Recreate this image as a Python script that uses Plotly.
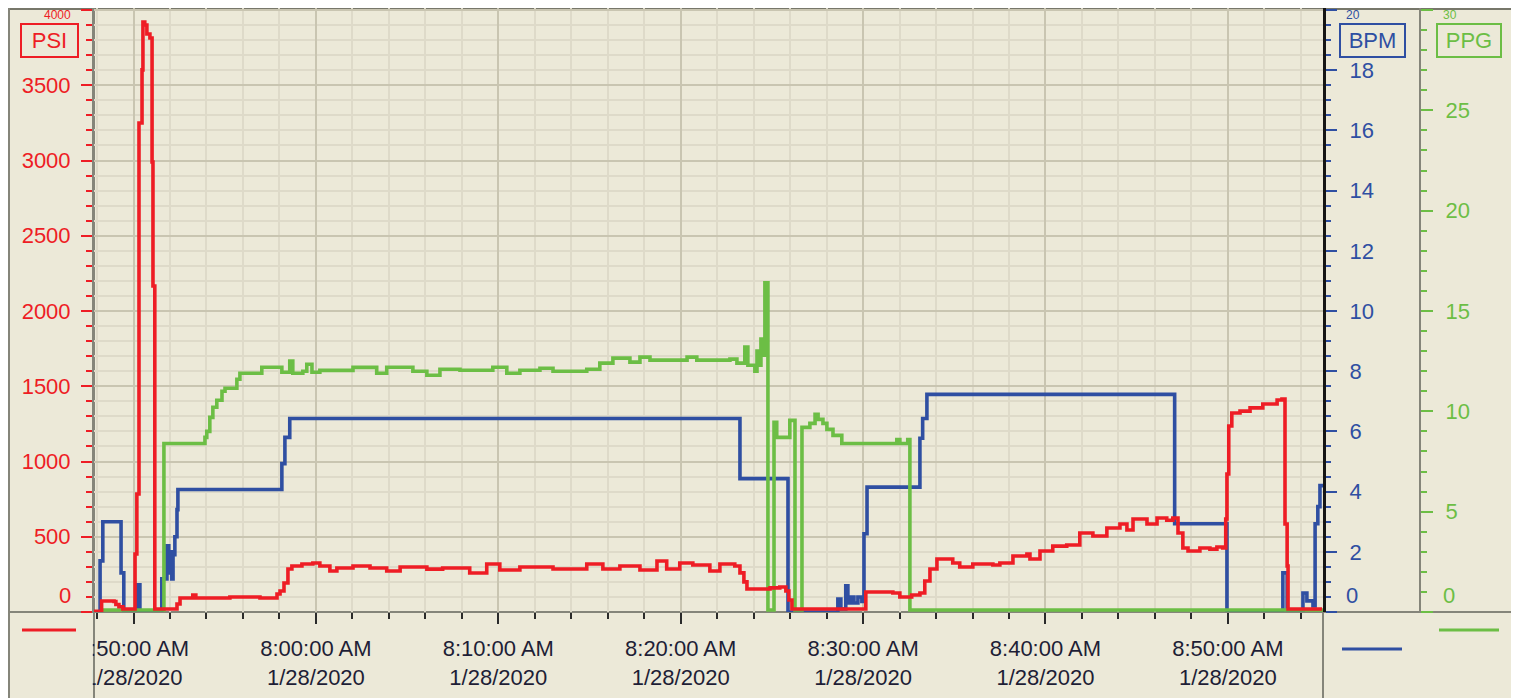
import plotly.graph_objects as go

DAY = "2020-01-28"

# ---------------- data ----------------
psi_times = ["07:47:50","07:48:15","07:48:56","07:49:02","07:49:12","07:49:25","07:50:05","07:50:11",
             "07:50:18","07:50:28","07:50:31","07:50:37","07:50:44","07:50:54","07:51:01","07:51:04",
             "07:51:10","07:52:23","07:52:33","07:53:15","07:53:25","07:55:17","07:56:56","07:57:52",
             "07:58:02","07:58:15","07:58:28","07:58:41","07:59:14","07:59:50","08:00:13","08:00:46",
             "08:01:09","08:02:02","08:02:58","08:03:53","08:04:37","08:06:05","08:06:57","08:08:26",
             "08:09:22","08:10:05","08:11:11","08:13:00","08:14:51","08:15:44","08:16:40","08:17:46",
             "08:18:42","08:19:14","08:19:57","08:20:40","08:21:36","08:22:09","08:22:58","08:23:15",
             "08:23:28","08:23:38","08:24:54","08:25:26","08:25:46","08:25:56","08:26:06","08:29:59",
             "08:30:09","08:31:38","08:32:01","08:32:40","08:33:07","08:33:23","08:33:40","08:34:03",
             "08:34:55","08:35:18","08:36:01","08:37:07","08:37:30","08:38:13","08:38:59","08:39:09",
             "08:39:42","08:40:24","08:41:10","08:41:53","08:42:36","08:43:22","08:44:05","08:44:28",
             "08:44:48","08:45:34","08:46:07","08:46:39","08:46:59","08:47:16","08:47:32","08:47:49",
             "08:48:28","08:49:01","08:49:24","08:49:43","08:49:53","08:49:57","08:50:03","08:50:13",
             "08:50:40","08:51:13","08:51:55","08:52:42","08:52:58","08:53:08","08:53:15","08:53:18",
             "08:55:10"]
psi_values = [5,73,70,50,35,20,385,784,
              3249,3602,3920,3900,3841,3814,2990,2166,
              20,53,93,113,93,100,93,120,
              140,193,286,306,319,326,306,272,
              292,306,292,272,299,285,292,259,
              319,279,299,286,319,286,306,279,
              339,286,326,312,272,319,306,260,
              200,153,160,166,140,80,20,20,
              133,126,100,113,126,206,286,352,
              326,299,319,312,326,372,385,352,
              405,438,445,525,505,558,585,545,
              618,585,625,610,625,525,425,405,
              425,418,432,425,618,917,1236,1322,
              1335,1356,1382,1409,1415,585,306,20,
              20]

bpm_times = ["07:47:50","07:48:10","07:48:19","07:49:19","07:49:28","07:50:11","07:50:21","07:51:33",
             "07:51:50","07:51:56","07:52:00","07:52:06","07:52:10","07:52:16","07:52:23","07:52:26",
             "07:58:08","07:58:18","07:58:34","08:23:15","08:25:53","08:28:37","08:28:47","08:29:03",
             "08:29:10","08:29:20","08:29:30","08:29:43","08:29:56","08:30:03","08:30:13","08:33:07",
             "08:33:16","08:33:30","08:47:05","08:49:57","08:53:01","08:53:15","08:54:07","08:54:20",
             "08:54:40","08:54:47","08:54:56","08:55:03","08:55:13"]
bpm_values = [0,1.7,3.0,1.3,0,0.9,0,1.1,
              2.2,1.3,2.0,1.1,1.9,2.5,3.4,4.07,
              4.93,5.8,6.43,4.43,0,0.43,0.1,0.87,
              0.3,0.5,0.3,0.5,0.35,2.6,4.15,5.77,
              6.43,7.23,2.93,0,1.3,0,0.63,0.37,
              0.2,2.93,3.5,4.2,4.2]

ppg_times = ["07:48:10","07:51:40","07:53:55","07:54:01","07:54:11","07:54:21","07:54:34","07:54:51",
             "07:55:01","07:55:40","07:55:50","07:57:02","07:58:08","07:58:34","07:58:44","07:59:17",
             "07:59:30","07:59:47","08:00:13","08:02:02","08:03:20","08:03:53","08:05:19","08:06:05",
             "08:06:48","08:07:54","08:09:42","08:10:28","08:11:11","08:12:17","08:13:00","08:14:51",
             "08:15:34","08:16:17","08:17:13","08:17:46","08:18:19","08:20:21","08:20:53","08:22:42",
             "08:23:05","08:23:31","08:23:41","08:24:04","08:24:11","08:24:17","08:24:24","08:24:30",
             "08:24:37","08:24:47","08:25:07","08:25:16","08:25:59","08:26:16","08:26:39","08:27:05",
             "08:27:22","08:27:32","08:27:48","08:28:01","08:28:21","08:28:50","08:31:51","08:32:01",
             "08:32:27","08:32:34","08:55:13"]
ppg_values = [0.1,8.4,8.7,9.0,9.7,10.2,10.55,11.0,
              11.15,11.6,11.9,12.2,11.95,12.5,11.9,12.0,
              12.35,11.95,12.04,12.19,11.9,12.2,12.0,11.8,
              12.1,12.05,12.2,11.9,12.05,12.15,12.0,12.1,
              12.4,12.65,12.45,12.7,12.55,12.7,12.55,12.6,
              12.4,13.2,12.3,12.0,13.0,12.3,13.6,12.8,
              16.4,0.1,9.45,8.7,9.55,0.1,9.2,9.4,
              9.85,9.6,9.4,9.1,8.8,8.4,8.6,8.4,
              8.6,0.1,0.1]

x_tick_times = ["07:50:00","08:00:00","08:10:00","08:20:00","08:30:00","08:40:00","08:50:00"]
x_tick_labels = ["7:50:00 AM<br>1/28/2020","8:00:00 AM<br>1/28/2020","8:10:00 AM<br>1/28/2020",
                 "8:20:00 AM<br>1/28/2020","8:30:00 AM<br>1/28/2020","8:40:00 AM<br>1/28/2020",
                 "8:50:00 AM<br>1/28/2020"]
x_range = ["07:47:50", "08:55:13"]

psi_ticks = [0,500,1000,1500,2000,2500,3000,3500,4000]
psi_tick_labels = ["","500","1000","1500","2000","2500","3000","3500",""]
bpm_ticks = [0,2,4,6,8,10,12,14,16,18,20]
bpm_tick_labels = ["","2","4","6","8","10","12","14","16","18",""]
ppg_ticks = [0,5,10,15,20,25,30]
ppg_tick_labels = ["","5","10","15","20","25",""]

# ---------------- styling ----------------
PAGE_W, PAGE_H = 1519, 698
OFF = 8                      # the page body adds an 8 px margin around the figure
W, H = PAGE_W - OFF, PAGE_H - OFF
LEFT, RIGHT_AX, PPG_AX, TOP, BOTTOM = 94, 1323, 1420, 8, 612   # page pixels
FONT = "Liberation Sans, Arial, sans-serif"
BG = "#ECE9D8"
GRID_MAJOR = "#C9C5B1"
GRID_MINOR = "#DEDAC9"
FRAME = "#85857A"
RED = "#EE1D25"
BLUE = "#2F4FA2"
GREEN = "#6CBE45"
XLAB = "#1E1E36"
LW = 3.6

scale_top = (BOTTOM - TOP) / (BOTTOM - 10)
PSI_TOP = 4000 * scale_top
BPM_TOP = 20 * scale_top
PPG_TOP = 30 * scale_top


def px(x):
    return (x - LEFT) / (PPG_AX - LEFT)


def py(y):
    return (BOTTOM - y) / (BOTTOM - TOP)


def ts(t):
    return f"{DAY} {t}"


fig = go.Figure()
# placeholder trace so the grid-only base axis exists
fig.add_trace(go.Scatter(x=[ts(x_range[0])], y=[None], yaxis="y", mode="lines",
                         showlegend=False, hoverinfo="skip"))
fig.add_trace(go.Scatter(x=[ts(t) for t in bpm_times], y=bpm_values, yaxis="y2", mode="lines",
                         name="BPM", line=dict(color=BLUE, width=LW, shape="hv")))
fig.add_trace(go.Scatter(x=[ts(t) for t in ppg_times], y=ppg_values, yaxis="y3", mode="lines",
                         name="PPG", line=dict(color=GREEN, width=LW, shape="hv")))
fig.add_trace(go.Scatter(x=[ts(t) for t in psi_times], y=psi_values, yaxis="y4", mode="lines",
                         name="PSI", line=dict(color=RED, width=LW, shape="hv")))

fig.update_layout(
    width=W, height=H,
    margin=dict(l=LEFT - OFF, r=PAGE_W - PPG_AX, t=TOP - OFF, b=PAGE_H - BOTTOM, pad=0),
    paper_bgcolor="white", plot_bgcolor="rgba(0,0,0,0)",
    template="none", showlegend=False,
    font=dict(family=FONT, size=22),
    xaxis=dict(
        type="date", domain=[0, px(RIGHT_AX)], range=[ts(x_range[0]), ts(x_range[1])],
        tickmode="array", tickvals=[ts(t) for t in x_tick_times], ticktext=x_tick_labels,
        ticks="outside", ticklen=11, tickwidth=2, tickcolor="#2a2a2a",
        tickfont=dict(family=FONT, size=22, color=XLAB), ticklabelstandoff=6,
        showgrid=True, gridcolor=GRID_MAJOR, gridwidth=2,
        minor=dict(tickmode="linear", tick0=ts("07:50:00"), dtick=120000, ticks="outside",
                   ticklen=6, tickwidth=2, tickcolor="#2a2a2a",
                   showgrid=True, gridcolor=GRID_MINOR, gridwidth=2),
        showline=False, zeroline=False, automargin=False, fixedrange=True,
    ),
    yaxis=dict(
        range=[0, PSI_TOP], tickmode="array", tickvals=psi_ticks, showticklabels=False, ticks="",
        showgrid=True, gridcolor=GRID_MAJOR, gridwidth=2,
        minor=dict(tickmode="linear", tick0=0, dtick=100, ticks="", showgrid=True,
                   gridcolor=GRID_MINOR, gridwidth=2),
        zeroline=False, showline=False, automargin=False,
    ),
    yaxis2=dict(
        overlaying="y", anchor="x", side="right", range=[0, BPM_TOP],
        tickmode="array", tickvals=bpm_ticks, ticktext=bpm_tick_labels,
        ticks="outside", ticklen=11, tickwidth=2, tickcolor=BLUE,
        tickfont=dict(family=FONT, size=22, color=BLUE), ticklabelstandoff=8,
        minor=dict(tickmode="linear", tick0=0, dtick=0.5, ticks="outside", ticklen=5,
                   tickwidth=2, tickcolor=BLUE, showgrid=False),
        showgrid=False, zeroline=False, showline=True, linecolor="#151515", linewidth=3,
        automargin=False,
    ),
    yaxis3=dict(
        overlaying="y", anchor="free", position=1.0, side="right", range=[0, PPG_TOP],
        tickmode="array", tickvals=ppg_ticks, ticktext=ppg_tick_labels,
        ticks="outside", ticklen=12, tickwidth=2, tickcolor=GREEN,
        tickfont=dict(family=FONT, size=22, color=GREEN), ticklabelstandoff=8,
        minor=dict(tickmode="linear", tick0=0, dtick=1, ticks="outside", ticklen=6,
                   tickwidth=2, tickcolor=GREEN, showgrid=False),
        showgrid=False, zeroline=False, showline=True, linecolor=FRAME, linewidth=2,
        automargin=False,
    ),
    yaxis4=dict(
        overlaying="y", anchor="x", side="left", range=[0, PSI_TOP],
        tickmode="array", tickvals=psi_ticks, ticktext=psi_tick_labels,
        ticks="outside", ticklen=11, tickwidth=2, tickcolor=RED,
        tickfont=dict(family=FONT, size=22, color=RED), ticklabelstandoff=6,
        minor=dict(tickmode="linear", tick0=0, dtick=100, ticks="outside", ticklen=6,
                   tickwidth=2, tickcolor=RED, showgrid=False),
        showgrid=False, zeroline=False, showline=True, linecolor=FRAME, linewidth=2,
        automargin=False,
    ),
)


def seg(x0, y0, x1, y1, color, width, layer="below"):
    return dict(type="line", xref="paper", yref="paper", x0=px(x0), y0=py(y0),
                x1=px(x1), y1=py(y1), line=dict(color=color, width=width), layer=layer)


shapes = [
    dict(type="rect", xref="paper", yref="paper", x0=px(OFF), x1=px(PAGE_W + 2), y0=py(OFF - 2),
         y1=py(PAGE_H + 2), fillcolor=BG, line=dict(width=0), layer="below"),
    seg(OFF, 9, PAGE_W, 9, "#77776A", 2),
    seg(OFF + 1, 8, OFF + 1, PAGE_H, FRAME, 2),
    seg(1518, 8, 1518, PAGE_H, FRAME, 2),
    seg(OFF, 612, PAGE_W, 612, FRAME, 2),
    seg(94, 8, 94, PAGE_H, FRAME, 2),
    seg(1323, 612, 1323, PAGE_H, FRAME, 2),
    # clip the first time label at the plot's left edge
    dict(type="rect", xref="paper", yref="paper", x0=px(OFF + 2), x1=px(92.8), y0=py(613.3),
         y1=py(PAGE_H + 2), fillcolor=BG, line=dict(width=0), layer="above"),
    # legend keys
    seg(22, 630, 76, 630, RED, 3, "above"),
    seg(1342, 649, 1402, 649, BLUE, 3, "above"),
    seg(1439, 630, 1499, 630, GREEN, 3, "above"),
]
fig.update_layout(shapes=shapes)


def label(text, x, y, color, anchor, size=22):
    return dict(text=text, xref="paper", yref="paper", x=px(x), y=py(y), xanchor=anchor,
                yanchor="middle", showarrow=False, borderpad=0,
                font=dict(family=FONT, size=size, color=color))


def box(text, cx, w, color):
    return dict(text=text, xref="paper", yref="paper", x=px(cx), y=py(40.5), xanchor="center",
                yanchor="middle", showarrow=False, width=w, height=29, borderpad=1, borderwidth=2,
                bordercolor=color, bgcolor=BG, font=dict(family=FONT, size=22, color=color))


fig.update_layout(annotations=[
    label("0", 72, 595, RED, "right"),
    label("4000", 72, 15.5, RED, "right", 12),
    label("0", 1345, 595, BLUE, "left"),
    label("20", 1345, 15.5, BLUE, "left", 12),
    label("0", 1442, 595, GREEN, "left"),
    label("30", 1442, 15.5, GREEN, "left", 12),
    box("PSI", 49.5, 53, RED),
    box("BPM", 1372.5, 61, BLUE),
    box("PPG", 1469, 60, GREEN),
])

fig.write_html("out.html")
